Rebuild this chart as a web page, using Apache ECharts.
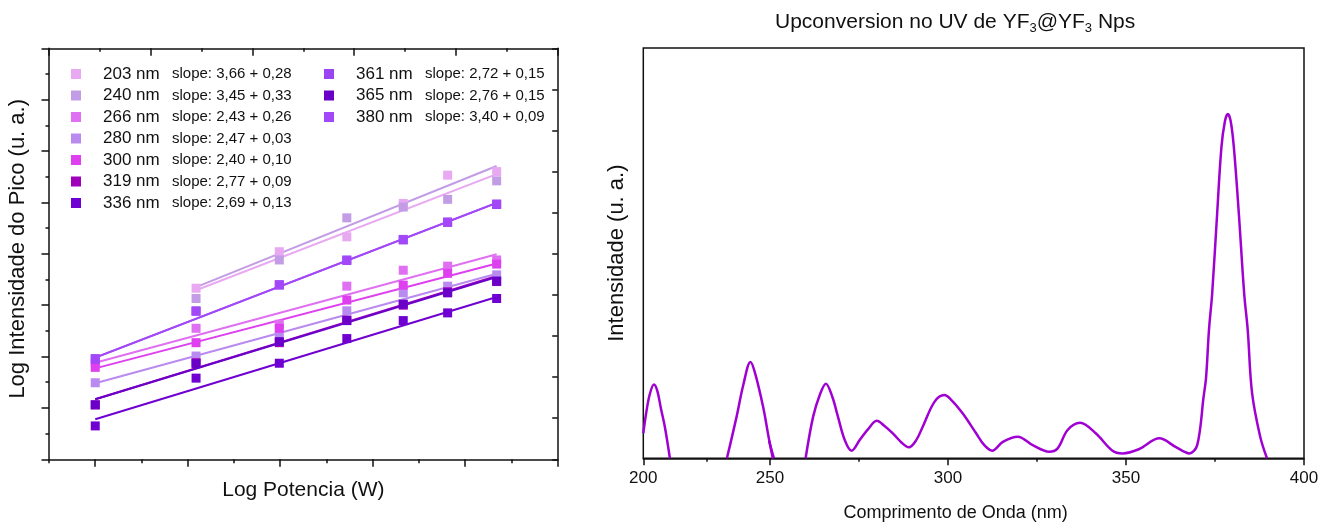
<!DOCTYPE html>
<html><head><meta charset="utf-8">
<script src="https://cdn.jsdelivr.net/npm/echarts@6/dist/echarts.min.js"></script>
<style>html,body{margin:0;padding:0;background:#fff}#c{width:1322px;height:524px}</style>
</head><body><div id="c"></div>
<script>
// ---------- Left panel data (arbitrary log units) ----------
const seriesNames = ['203 nm','240 nm','266 nm','280 nm','300 nm','319 nm','336 nm','361 nm','365 nm','380 nm'];
const slopeTexts  = ['3,66 + 0,28','3,45 + 0,33','2,43 + 0,26','2,47 + 0,03','2,40 + 0,10','2,77 + 0,09','2,69 + 0,13','2,72 + 0,15','2,76 + 0,15','3,40 + 0,09'];
const seriesColors = ['#E9A8F2','#C29CE4','#E070F2','#B98AF0','#DE40F0','#A000BC','#7000D2','#9A44F2','#6A00C8','#A248F8'];
const logPower = [0, 1.09, 1.99, 2.72, 3.33, 3.81, 4.34];
const v203 = [null, 3.33, 4.04, 4.33, 4.98, 5.53, 5.60];
const v240 = [null, 3.13, 3.88, 4.70, 4.91, 5.06, 5.42];
const v266 = [1.87, 2.55, 2.63, 3.37, 3.68, 3.76, 3.88];
const v280 = [1.49, 2.01, 2.42, 2.89, 3.24, 3.37, 3.59];
const v300 = [1.79, 2.27, 2.55, 3.10, 3.39, 3.62, 3.80];
const v319 = [1.06, 1.88, 2.27, 2.71, 3.00, 3.26, 3.46];
const v336 = [0.65, 1.58, 1.87, 2.35, 2.70, 2.85, 3.13];
const v361 = [1.95, 2.89, 3.39, 3.88, 4.27, 4.62, 4.96];
const v365 = [1.06, 1.86, 2.29, 2.70, 3.02, 3.24, 3.47];
const v380 = [1.96, 2.88, 3.40, 3.87, 4.28, 4.61, 4.97];
// fitted lines: [x start, x end] and [y start, y end]
const fitXStart = [1.09, 1.09, 0, 0, 0, 0, 0, 0, 0, 0];
const fitXEnd   = [4.34, 4.34, 4.34, 4.34, 4.34, 4.34, 4.34, 4.34, 4.34, 4.34];
const fitYStart = [3.29, 3.35, 1.88, 1.48, 1.77, 1.17, 0.78, 1.98, 1.17, 1.98];
const fitYEnd   = [5.55, 5.71, 3.99, 3.61, 3.81, 3.57, 3.16, 4.99, 3.55, 4.99];
const majorTicksX = [0, 1, 2, 3, 4, 5];
const minorTicksX = [-0.5, 0.5, 1.5, 2.5, 3.5, 4.5];

// ---------- Right panel data (null = below the visible range) ----------
const wavelength = [200,201,202.5,204.2,205.5,207,208.5,210.5,222,233,236.8,239.5,242.3,244,247.3,249.5,251.1,256,260,262.1,264,265.7,267.5,269.1,271,272.9,275.2,277.5,280,282,284.5,287,289,291,292.9,296.2,299,300.5,304,307.9,310.2,312.4,315.4,319.6,323.8,328.4,330.8,333.6,337.1,341.5,346.2,349,353.6,359.4,363.9,367.8,370,371.8,372.5,373.3,374.2,375.6,376.8,377.8,378.6,379.4,380.3,381.7,383.2,384.2,385.4,387.7,389.6,395];
const intensity  = [6.1,10.5,15.5,18.0,16.5,12.0,7.7,0,null,0,10.1,18,23.5,21,12.5,5,0,null,0,10.1,15.5,18.2,15,10.1,4.45,1.85,4.45,7.05,9.14,8,6.08,3.8,2.67,4.3,7.7,13.76,15.4,14.6,11.1,6.1,3.2,1.85,4.0,5.25,3.2,1.6,2.43,6.9,8.66,6.1,1.85,1.2,2.2,4.86,2.8,1.2,3.2,15,19.8,31.2,40.1,59.6,75.8,82.2,83.9,82.2,75.8,59.6,40.1,31.2,16,5.25,0,null];
const xTickLabels = [200, 250, 300, 350, 400];

const leftValues = [v203, v240, v266, v280, v300, v319, v336, v361, v365, v380];
const FONT = '"Liberation Sans", Arial, sans-serif';
const AX = '#111';

const chart = echarts.init(document.getElementById('c'), null, {renderer: 'canvas'});

const series = [];
seriesNames.forEach((nm, i) => {
  series.push({
    name: nm + ' fit', type: 'line', xAxisIndex: 0, yAxisIndex: 0,
    data: [[fitXStart[i], fitYStart[i]], [fitXEnd[i], fitYEnd[i]]],
    showSymbol: false, symbol: 'none', lineStyle: {color: seriesColors[i], width: 2},
    itemStyle: {color: seriesColors[i]}, silent: true, z: 2
  });
});
seriesNames.forEach((nm, i) => {
  series.push({
    name: nm, type: 'scatter', xAxisIndex: 0, yAxisIndex: 0,
    data: logPower.map((x, k) => leftValues[i][k] == null ? null : [x, leftValues[i][k]]).filter(d => d),
    symbol: 'rect', symbolSize: 9, itemStyle: {color: seriesColors[i], opacity: 1}, z: 3
  });
});
const spec = wavelength.map((w, i) => [w, intensity[i] == null ? null : intensity[i]]);
const specLine = {type: 'line', data: spec, smooth: 0.35, connectNulls: false, showSymbol: false, symbol: 'none', clip: true, lineStyle: {color: '#A000D2', width: 2.5}};
series.push(Object.assign({xAxisIndex: 3, yAxisIndex: 2}, specLine));
series.push(Object.assign({xAxisIndex: 4, yAxisIndex: 3}, specLine));

function legendFmt(name) {
  const i = seriesNames.indexOf(name);
  return '{n|' + name + '}{s|slope: ' + slopeTexts[i] + '}';
}
const legendRich = {
  n: {fontFamily: FONT, fontSize: 17, color: '#111', width: 69, padding: [0, 0, 0, 17], lineHeight: 20},
  s: {fontFamily: FONT, fontSize: 15, color: '#111', lineHeight: 20}
};
const noSplit = {show: false};
const axLine = {show: true, onZero: false, lineStyle: {color: AX, width: 1.5}};
const gridBase = {containLabel: false, outerBoundsMode: 'none'};
const option = {
  animation: false,
  backgroundColor: '#fff',
  textStyle: {fontFamily: FONT},
  title: {
    text: 'Upconversion no UV de YF{sub|3}@YF{sub|3} Nps',
    left: 775, top: 9, padding: 0,
    textStyle: {fontFamily: FONT, fontSize: 21, fontWeight: 'normal', color: '#111', lineHeight: 26,
      rich: {sub: {fontFamily: FONT, fontSize: 13, lineHeight: 12, verticalAlign: 'bottom', color: '#111'}}}
  },
  legend: [
    {data: seriesNames.slice(0, 7), orient: 'vertical', left: 71, top: 65.5, padding: 0, itemGap: 4.5,
     itemWidth: 10, itemHeight: 10, icon: 'rect', formatter: legendFmt, textStyle: {rich: legendRich}},
    {data: seriesNames.slice(7), orient: 'vertical', left: 324, top: 65.5, padding: 0, itemGap: 4.5,
     itemWidth: 10, itemHeight: 10, icon: 'rect', formatter: legendFmt, textStyle: {rich: legendRich}}
  ],
  grid: [
    Object.assign({left: 49, top: 48.3, width: 508.7, height: 411}, gridBase),
    Object.assign({left: 643.3, top: 48, width: 126.7, height: 410.3}, gridBase),
    Object.assign({left: 770, top: 48, width: 534, height: 410.3}, gridBase),
    Object.assign({left: 643.3, top: 48, width: 660.7, height: 410.3, show: true, borderColor: AX, borderWidth: 1.5, backgroundColor: 'transparent'}, gridBase)
  ],
  xAxis: [
    {gridIndex: 0, type: 'value', position: 'bottom', min: -0.5, max: 5,
     axisLine: axLine,
     axisTick: {show: true, customValues: majorTicksX, length: 7.5, lineStyle: {color: AX, width: 1.5}},
     axisLabel: {show: false}, splitLine: noSplit,
     name: 'Log Potencia (W)', nameLocation: 'middle', nameGap: 20,
     nameTextStyle: {fontFamily: FONT, fontSize: 21, color: '#111'}},
    {gridIndex: 0, type: 'value', position: 'bottom', min: -0.5, max: 5,
     axisLine: {show: false, onZero: false},
     axisTick: {show: true, customValues: minorTicksX, length: 4, lineStyle: {color: AX, width: 1.5}},
     axisLabel: {show: false}, splitLine: noSplit},
    {gridIndex: 0, type: 'value', position: 'top', min: 0, max: 10, interval: 2,
     axisLine: axLine,
     axisTick: {show: true, inside: true, length: 7.5, lineStyle: {color: AX, width: 1.5}},
     minorTick: {show: true, splitNumber: 2, length: 3.5, lineStyle: {color: AX, width: 1.5}},
     axisLabel: {show: false}, splitLine: noSplit},
    {gridIndex: 1, type: 'value', position: 'bottom', min: 200, max: 250, interval: 50,
     axisLine: axLine,
     axisTick: {show: true, length: 7, lineStyle: {color: AX, width: 1.5}},
     minorTick: {show: true, splitNumber: 2, length: 3.5, lineStyle: {color: AX, width: 1.5}},
     axisLabel: {show: true, showMaxLabel: false, fontFamily: FONT, fontSize: 17, color: '#111', margin: 12,
       formatter: v => xTickLabels.includes(v) ? String(v) : ''},
     splitLine: noSplit},
    {gridIndex: 2, type: 'value', position: 'bottom', min: 250, max: 400, interval: 50,
     axisLine: axLine,
     axisTick: {show: true, length: 7, lineStyle: {color: AX, width: 1.5}},
     minorTick: {show: true, splitNumber: 2, length: 3.5, lineStyle: {color: AX, width: 1.5}},
     axisLabel: {show: true, showMinLabel: true, showMaxLabel: true, fontFamily: FONT, fontSize: 17, color: '#111', margin: 12,
       formatter: v => xTickLabels.includes(v) ? String(v) : ''},
     splitLine: noSplit},
    {gridIndex: 3, type: 'value', min: 0, max: 1, position: 'bottom',
     axisLine: {show: false, onZero: false}, axisTick: {show: false}, axisLabel: {show: false}, splitLine: noSplit,
     name: 'Comprimento de Onda (nm)', nameLocation: 'middle', nameGap: 46,
     nameTextStyle: {fontFamily: FONT, fontSize: 18, color: '#111', padding: [0, 36, 0, 0]}}
  ],
  yAxis: [
    {gridIndex: 0, type: 'value', position: 'left', min: 0, max: 8, interval: 1,
     axisLine: axLine,
     axisTick: {show: true, length: 7.5, lineStyle: {color: AX, width: 1.5}},
     minorTick: {show: true, splitNumber: 2, length: 3.5, lineStyle: {color: AX, width: 1.5}},
     axisLabel: {show: false}, splitLine: noSplit,
     name: 'Log Intensidade do Pico (u. a.)', nameLocation: 'middle', nameGap: 20,
     nameTextStyle: {fontFamily: FONT, fontSize: 22, color: '#111', padding: [0, 0, 0, 10]}},
    {gridIndex: 0, type: 'value', position: 'right', min: 0, max: 10, interval: 1,
     axisLine: axLine,
     axisTick: {show: true, inside: true, length: 5.5, lineStyle: {color: AX, width: 1.5}},
     axisLabel: {show: false}, splitLine: noSplit},
    {gridIndex: 1, type: 'value', min: 0, max: 100, show: false, axisLine: {onZero: false}, splitLine: noSplit},
    {gridIndex: 2, type: 'value', min: 0, max: 100, show: false, axisLine: {onZero: false}, splitLine: noSplit},
    {gridIndex: 3, type: 'value', min: 0, max: 1, position: 'left',
     axisLine: {show: false, onZero: false}, axisTick: {show: false}, axisLabel: {show: false}, splitLine: noSplit,
     name: 'Intensidade (u. a.)', nameLocation: 'middle', nameGap: 15,
     nameTextStyle: {fontFamily: FONT, fontSize: 22, color: '#111'}}
  ],
  series: series
};
chart.setOption(option);
</script></body></html>
